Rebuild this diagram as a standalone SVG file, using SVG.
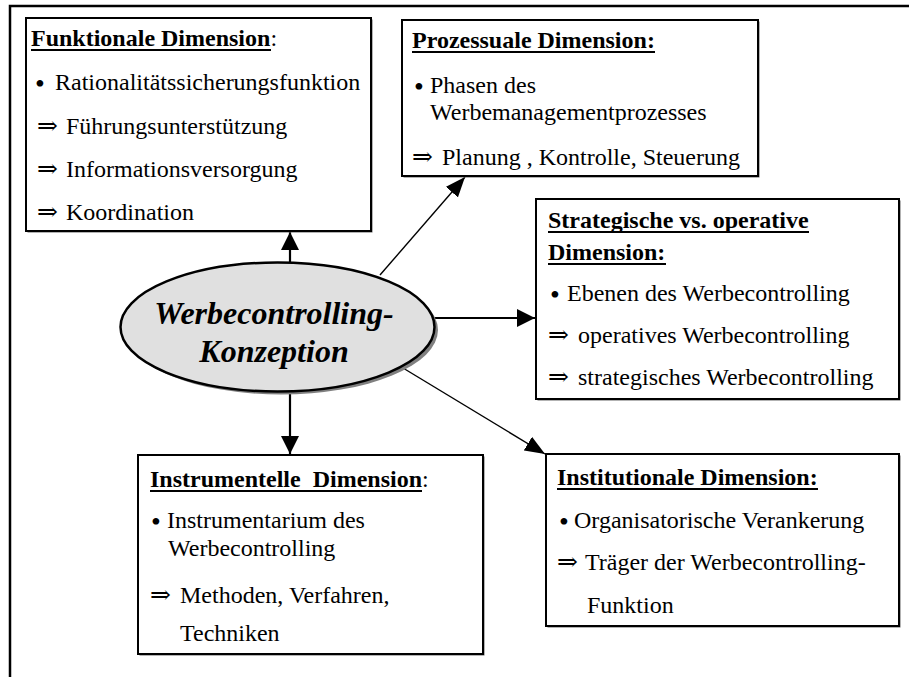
<svg xmlns="http://www.w3.org/2000/svg" width="909" height="677" viewBox="0 0 909 677">
<defs>
<style>
.frame{fill:none;stroke:#000;stroke-width:2.5}
.box{fill:#fff;stroke:#000;stroke-width:2}
.shadow{fill:#666}
.t{font-family:"Liberation Serif","Times New Roman",serif;font-size:24px;fill:#000}
.h{font-weight:bold}
.ul{stroke:#000;stroke-width:2}
.bu{font-size:28px}
.ar{font-family:"DejaVu Serif","DejaVu Sans",serif;font-size:25px}
.thick{stroke:#000;stroke-width:2.2;fill:none}
.thin{stroke:#000;stroke-width:1.4;fill:none}
.title{font-family:"Liberation Serif","Times New Roman",serif;font-size:32px;font-weight:bold;font-style:italic;fill:#000;text-anchor:middle}
</style>
<marker id="ah" markerUnits="userSpaceOnUse" viewBox="0 0 18 18" markerWidth="18" markerHeight="18" refX="18" refY="9" orient="auto">
<path d="M0,0 L18,9 L0,18 z" fill="#000"/>
</marker>
<marker id="ahT" markerUnits="userSpaceOnUse" viewBox="0 0 20 16" markerWidth="20" markerHeight="16" refX="20" refY="8" orient="auto">
<path d="M0,0 L20,8 L0,16 z" fill="#000"/>
</marker>
</defs>
<rect width="909" height="677" fill="#fff"/>
<path class="frame" d="M10,677 L10,6 L909,6"/>

<g id="connectors">
<path class="thick" d="M290,263 L290,232" marker-end="url(#ah)"/>
<path class="thick" d="M290,391 L290,454" marker-end="url(#ah)"/>
<path class="thick" d="M433,318 L535,318" marker-end="url(#ah)"/>
<path class="thin" d="M380,275 L465,177" marker-end="url(#ahT)"/>
<path class="thin" d="M403,368 L545,454" marker-end="url(#ahT)"/>
</g>

<g id="center">
<ellipse cx="281" cy="330" rx="157" ry="64.5" fill="#808080"/>
<ellipse cx="277.5" cy="327" rx="157" ry="64.5" fill="#e0e0e0" stroke="#000" stroke-width="2.5"/>
<text class="title" x="274" y="324">Werbecontrolling-</text>
<text class="title" x="274" y="362">Konzeption</text>
</g>

<g id="funktionale">
<rect class="shadow" x="27.5" y="19.5" width="345" height="213"/>
<rect class="box" x="26" y="18" width="345" height="213"/>
<text class="t" y="46"><tspan x="31" class="h">Funktionale Dimension</tspan><tspan>:</tspan></text>
<line class="ul" x1="31" y1="50" x2="271" y2="50"/>
<text class="t"><tspan x="35" y="93" class="bu">•</tspan><tspan x="55" y="90">Rationalitätssicherungsfunktion</tspan></text>
<text class="t" y="134"><tspan x="37" class="ar">⇒</tspan><tspan x="66">Führungsunterstützung</tspan></text>
<text class="t" y="177"><tspan x="37" class="ar">⇒</tspan><tspan x="66">Informationsversorgung</tspan></text>
<text class="t" y="220"><tspan x="37" class="ar">⇒</tspan><tspan x="66">Koordination</tspan></text>
</g>

<g id="prozessuale">
<rect class="shadow" x="403.5" y="21.5" width="356" height="156"/>
<rect class="box" x="402" y="20" width="356" height="156"/>
<text class="t h" x="412" y="48">Prozessuale Dimension:</text>
<line class="ul" x1="412" y1="52" x2="655" y2="52"/>
<text class="t"><tspan x="414" y="96" class="bu">•</tspan><tspan x="430" y="93">Phasen des</tspan></text>
<text class="t" x="430" y="120">Werbemanagementprozesses</text>
<text class="t" y="165"><tspan x="412" class="ar">⇒</tspan><tspan x="442">Planung , Kontrolle, Steuerung</tspan></text>
</g>

<g id="strategische">
<rect class="shadow" x="537.5" y="200.5" width="363" height="200"/>
<rect class="box" x="536" y="199" width="363" height="200"/>
<text class="t h" x="548" y="228">Strategische vs. operative</text>
<line class="ul" x1="548" y1="232" x2="809" y2="232"/>
<text class="t h" x="548" y="260">Dimension:</text>
<line class="ul" x1="548" y1="264" x2="666" y2="264"/>
<text class="t"><tspan x="550" y="304" class="bu">•</tspan><tspan x="567" y="301">Ebenen des Werbecontrolling</tspan></text>
<text class="t" y="343"><tspan x="548" class="ar">⇒</tspan><tspan x="578">operatives Werbecontrolling</tspan></text>
<text class="t" y="385"><tspan x="548" class="ar">⇒</tspan><tspan x="578">strategisches Werbecontrolling</tspan></text>
</g>

<g id="instrumentelle">
<rect class="shadow" x="139.5" y="456.5" width="345" height="199"/>
<rect class="box" x="138" y="455" width="345" height="199"/>
<text class="t" y="487" xml:space="preserve" style="white-space:pre"><tspan x="150" class="h">Instrumentelle  Dimension</tspan><tspan>:</tspan></text>
<line class="ul" x1="150" y1="491" x2="422" y2="491"/>
<text class="t"><tspan x="151" y="531" class="bu">•</tspan><tspan x="167" y="528">Instrumentarium des</tspan></text>
<text class="t" x="168" y="556">Werbecontrolling</text>
<text class="t" y="603"><tspan x="150" class="ar">⇒</tspan><tspan x="180">Methoden, Verfahren,</tspan></text>
<text class="t" x="180" y="641">Techniken</text>
</g>

<g id="institutionale">
<rect class="shadow" x="547.5" y="455.5" width="353" height="172"/>
<rect class="box" x="546" y="454" width="353" height="172"/>
<text class="t h" x="557" y="485">Institutionale Dimension:</text>
<line class="ul" x1="557" y1="489" x2="818" y2="489"/>
<text class="t"><tspan x="559" y="531" class="bu">•</tspan><tspan x="574" y="528">Organisatorische Verankerung</tspan></text>
<text class="t" y="570"><tspan x="557" class="ar">⇒</tspan><tspan x="585">Träger der Werbecontrolling-</tspan></text>
<text class="t" x="587" y="613">Funktion</text>
</g>
</svg>
